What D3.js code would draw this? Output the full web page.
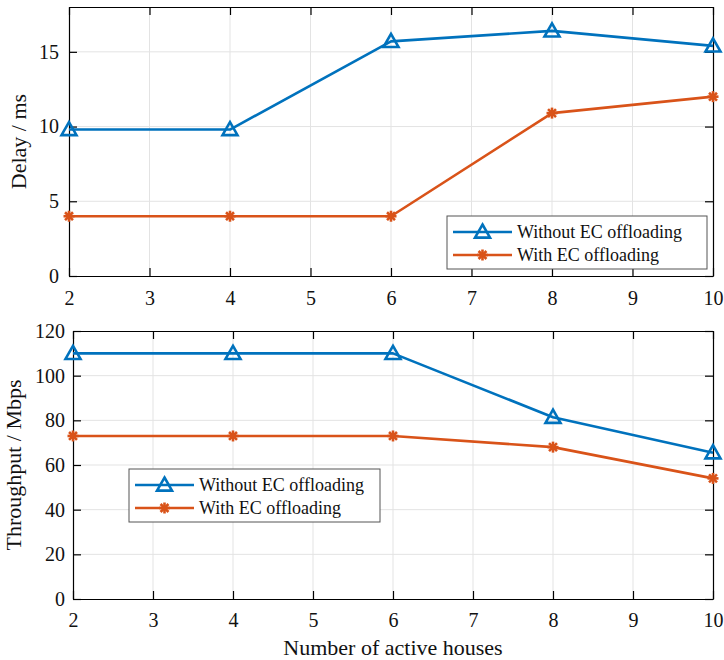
<!DOCTYPE html>
<html>
<head>
<meta charset="utf-8">
<script src="https://cdn.jsdelivr.net/npm/d3@7"></script>
<style>
  body { margin: 0; background: #fff; }
  svg { display: block; }
</style>
</head>
<body>
<svg id="chart" width="724" height="660"></svg>
<script>
// houses count
const houses = [2, 4, 6, 8, 10];
const seriesNames = ["Without EC offloading", "With EC offloading"];

// delay (ms)
const delayWithout = [9.8, 9.8, 15.7, 16.4, 15.4];
const delayWith = [4, 4, 4, 10.9, 12];

// throughput (Mbps)
const thrWithout = [110, 110, 110, 81.4, 65.5];
const thrWith = [73, 73, 73, 68, 54];

const xTicks = [2, 3, 4, 5, 6, 7, 8, 9, 10];
const delayTicks = [0, 5, 10, 15];
const thrTicks = [0, 20, 40, 60, 80, 100, 120];

const colors = ["#0072BD", "#D95319"];
const serif = "'Liberation Serif', 'Times New Roman', serif";
const svg = d3.select("#chart").style("font-family", serif);

function drawPanel(cfg) {
    const { left, right, top, bottom, yMax, yTicks, series, yLabel, legendPos } = cfg;
    const x = d3.scaleLinear().domain([2, 10]).range([left, right]);
    const y = d3.scaleLinear().domain([0, yMax]).range([bottom, top]);
    const g = svg.append("g");

    // grid
    g.append("g").selectAll("line").data(xTicks.slice(1, -1)).join("line")
        .attr("x1", d => x(d)).attr("x2", d => x(d))
        .attr("y1", top).attr("y2", bottom)
        .attr("stroke", "#e3e3e3").attr("stroke-width", 1);
    g.append("g").selectAll("line").data(yTicks.filter(d => d > 0 && d < yMax)).join("line")
        .attr("x1", left).attr("x2", right)
        .attr("y1", d => y(d)).attr("y2", d => y(d))
        .attr("stroke", "#e3e3e3").attr("stroke-width", 1);

    // axes (ticks pointing inward, box on)
    const styleAxis = sel => {
        sel.attr("font-family", serif).attr("font-size", 20);
        sel.select(".domain").attr("stroke", "#000").attr("stroke-width", 1.2);
        sel.selectAll(".tick line").attr("stroke", "#000").attr("stroke-width", 1.2);
        sel.selectAll("text").style("font-family", serif).style("font-size", "20px").attr("fill", "#111");
    };
    g.append("g").attr("transform", `translate(0,${bottom})`)
        .call(d3.axisBottom(x).tickValues(xTicks).tickSize(-8).tickSizeOuter(0).tickPadding(cfg.xPad))
        .call(styleAxis);
    g.append("g").attr("transform", `translate(0,${top})`)
        .call(d3.axisTop(x).tickValues(xTicks).tickSize(-8).tickSizeOuter(0).tickFormat(""))
        .call(styleAxis);
    g.append("g").attr("transform", `translate(${left},0)`)
        .call(d3.axisLeft(y).tickValues(yTicks).tickSize(-8).tickSizeOuter(0).tickPadding(cfg.yPad))
        .call(styleAxis);
    g.append("g").attr("transform", `translate(${right},0)`)
        .call(d3.axisRight(y).tickValues(yTicks).tickSize(-8).tickSizeOuter(0).tickFormat(""))
        .call(styleAxis);

    // y label
    g.append("text")
        .attr("transform", `translate(${cfg.yLabelX},${(top + bottom) / 2}) rotate(-90)`)
        .attr("text-anchor", "middle")
        .style("font-size", "22px").attr("fill", "#111")
        .text(yLabel);

    // lines + markers
    const line = d3.line().x((d, i) => x(houses[i])).y(d => y(d));
    series.forEach((vals, si) => {
        g.append("path").datum(vals)
            .attr("d", line).attr("fill", "none")
            .attr("stroke", colors[si]).attr("stroke-width", 2.6)
            .attr("stroke-linejoin", "round");
        vals.forEach((v, i) => drawMarker(g, si, x(houses[i]), y(v)));
    });

    // legend
    const lg = g.append("g").attr("transform", `translate(${legendPos[0]},${legendPos[1]})`);
    lg.append("rect").attr("width", legendPos[2]).attr("height", 53)
        .attr("fill", "#fff").attr("stroke", "#555").attr("stroke-width", 1);
    seriesNames.forEach((name, si) => {
        const ly = 16 + si * 23;
        lg.append("line").attr("x1", 6).attr("x2", 65).attr("y1", ly).attr("y2", ly)
            .attr("stroke", colors[si]).attr("stroke-width", 2.6);
        drawMarker(lg, si, 35.5, ly);
        lg.append("text").attr("x", 70).attr("y", ly).attr("dy", "0.33em")
            .style("font-size", "18px").attr("fill", "#111").text(name);
    });
}

function drawMarker(g, si, cx, cy) {
    if (si === 0) {
        const s = 7.5;
        g.append("path")
            .attr("d", `M${cx},${cy - s}L${cx + s},${cy + s * 0.75}L${cx - s},${cy + s * 0.75}Z`)
            .attr("fill", "none").attr("stroke", colors[0]).attr("stroke-width", 2.6)
            .attr("stroke-linejoin", "miter");
    } else {
        const r = 5.5, d = r * 0.72;
        const segs = [[-r, 0, r, 0], [0, -r, 0, r], [-d, -d, d, d], [-d, d, d, -d]];
        segs.forEach(s => g.append("line")
            .attr("x1", cx + s[0]).attr("y1", cy + s[1])
            .attr("x2", cx + s[2]).attr("y2", cy + s[3])
            .attr("stroke", colors[1]).attr("stroke-width", 2.6));
    }
}

drawPanel({
    left: 69, right: 713, top: 7, bottom: 276, yMax: 18, yTicks: delayTicks,
    series: [delayWithout, delayWith], yLabel: "Delay / ms", yLabelX: 26,
    legendPos: [447, 216, 260], xPad: 15, yPad: 10
});
drawPanel({
    left: 73, right: 713, top: 331, bottom: 599, yMax: 120, yTicks: thrTicks,
    series: [thrWithout, thrWith], yLabel: "Throughput / Mbps", yLabelX: 21,
    legendPos: [129, 469, 251], xPad: 14, yPad: 8
});

svg.append("text")
    .attr("x", 393).attr("y", 655)
    .attr("text-anchor", "middle")
    .style("font-size", "22px").attr("fill", "#111")
    .text("Number of active houses");
</script>
</body>
</html>
